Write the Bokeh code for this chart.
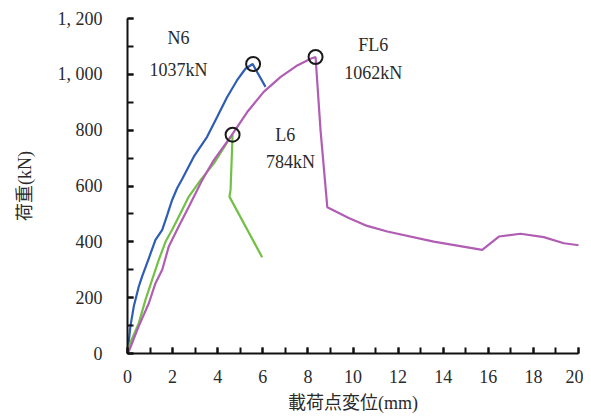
from bokeh.plotting import figure
from bokeh.models import Range1d, SingleIntervalTicker, Label, CustomJSTickFormatter
from bokeh.embed import file_html
from bokeh.resources import INLINE

# N6 (blue)
n6_x = [0, 0.13, 0.28, 0.5, 0.65, 0.95, 1.24, 1.54, 1.76, 1.98, 2.2, 2.42, 2.94, 3.53,
        3.98, 4.42, 4.86, 5.23, 5.55, 6.12]
n6_y = [0, 98, 169, 240, 276, 342, 407, 443, 496, 550, 592, 624, 705, 776,
        848, 919, 979, 1020, 1037, 955]
# L6 (green)
l6_x = [0, 0.06, 0.5, 0.8, 1.09, 1.39, 1.69, 1.98, 2.35, 2.72, 3.24, 3.83, 4.57, 4.66,
        4.57, 4.52, 5.97]
l6_y = [0, 26, 109, 193, 264, 336, 401, 443, 502, 562, 621, 681, 776, 784,
        586, 562, 345]
# FL6 (purple)
fl6_x = [0, 0.06, 0.5, 0.95, 1.24, 1.54, 1.83, 2.27, 2.72, 3.31, 3.83, 4.57, 5.31, 6.04,
         6.78, 7.53, 8.12, 8.34, 8.56, 8.86, 9.81, 10.63, 11.52, 13.58, 15.73, 16.47,
         17.43, 18.46, 19.35, 20.09]
fl6_y = [0, 8, 98, 181, 252, 300, 383, 455, 526, 621, 693, 776, 865, 937,
         990, 1032, 1056, 1062, 800, 524, 485, 457, 437, 401, 371, 419,
         429, 417, 395, 387]

peak_x = [5.57, 4.66, 8.34]
peak_y = [1037, 784, 1062]

labels = ["N6", "1037kN", "L6", "784kN", "FL6", "1062kN"]
label_x = [2.26, 2.26, 7.0, 7.23, 10.9, 10.9]
label_y = [1129, 1014, 782, 686, 1104, 1004]

FONT = "Liberation Serif, Noto Sans CJK JP, serif"
TXT = "#2a2a2a"

p = figure(width=583, height=415, output_backend="svg", toolbar_location=None,
           x_range=Range1d(0, 20), y_range=Range1d(0, 1200),
           min_border_left=127, min_border_right=5, min_border_top=18, min_border_bottom=61)
p.outline_line_color = None
p.xgrid.visible = False
p.ygrid.visible = False

p.line(n6_x, n6_y, line_color="#2E5DB5", line_width=2.2)
p.line(l6_x, l6_y, line_color="#72C045", line_width=2.2)
p.line(fl6_x, fl6_y, line_color="#B05DB3", line_width=2.2)
p.scatter(peak_x, peak_y, marker="circle", size=14, fill_color=None,
          line_color="#1a1a1a", line_width=2)

for t, x, y in zip(labels, label_x, label_y):
    p.add_layout(Label(x=x, y=y, text=t, text_font=FONT, text_font_size="18px",
                       text_color=TXT, text_align="center", text_baseline="middle"))

for ax in (p.xaxis[0], p.yaxis[0]):
    ax.axis_line_width = 2
    ax.axis_line_color = "#111111"
    ax.major_tick_line_width = 2
    ax.minor_tick_line_width = 2
    ax.major_tick_line_color = "#111111"
    ax.minor_tick_line_color = "#111111"
    ax.major_tick_in = 6
    ax.major_tick_out = 0
    ax.minor_tick_in = 6
    ax.minor_tick_out = 0
    ax.major_label_text_font = FONT
    ax.major_label_text_font_size = "18px"
    ax.major_label_text_color = TXT
    ax.axis_label_text_font = FONT
    ax.axis_label_text_font_size = "18px"
    ax.axis_label_text_font_style = "normal"
    ax.axis_label_text_color = TXT

p.xaxis.ticker = SingleIntervalTicker(interval=2, num_minor_ticks=2)
p.yaxis.ticker = SingleIntervalTicker(interval=200, num_minor_ticks=2)
p.yaxis.formatter = CustomJSTickFormatter(code="""
const s = Math.round(tick).toString();
if (s.length > 3) { return s.slice(0, s.length - 3) + ", " + s.slice(s.length - 3); }
return s;
""")
p.xaxis.axis_label = "載荷点変位(mm)"
p.yaxis.axis_label = "荷重(kN)"
p.xaxis.major_label_standoff = 16
p.yaxis.major_label_standoff = 25
p.xaxis.axis_label_standoff = 7
p.yaxis.axis_label_standoff = 20

open("out.html", "w").write(file_html(p, INLINE))
